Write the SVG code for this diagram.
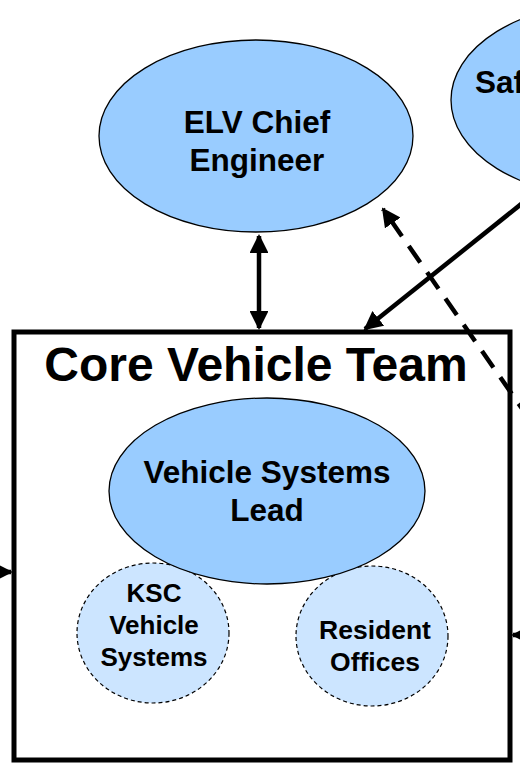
<svg xmlns="http://www.w3.org/2000/svg" width="520" height="771" viewBox="0 0 520 771">
<defs>
<style>
.big{fill:#99CCFF;stroke:#000;stroke-width:1.3}
.small{fill:#CCE5FF;stroke:#000;stroke-width:1.2;stroke-dasharray:4 3}
.t{font-family:"Liberation Sans",Arial,sans-serif;font-weight:bold;fill:#000;text-anchor:middle}
.ln{stroke:#000;stroke-width:4.5;fill:none}
</style>
<marker id="ah" viewBox="0 0 10 10" refX="9" refY="5" markerWidth="4.2" markerHeight="4.2" orient="auto-start-reverse" markerUnits="strokeWidth">
<path d="M0,0 L10,5 L0,10 Z" fill="#000"/>
</marker>
</defs>
<rect width="520" height="771" fill="#fff"/>
<g id="core-vehicle-team">
<rect x="14" y="332" width="496" height="428" fill="none" stroke="#000" stroke-width="5"/>
<text class="t" x="256" y="381" font-size="48">Core Vehicle Team</text>
</g>
<g id="elv-chief-engineer">
<ellipse class="big" cx="256" cy="136" rx="157" ry="96"/>
<text class="t" x="257" y="133" font-size="31.5">ELV Chief</text>
<text class="t" x="257" y="171" font-size="31.5">Engineer</text>
</g>
<g id="safety">
<ellipse class="big" cx="608" cy="100" rx="157" ry="97"/>
<text class="t" x="475" y="93" font-size="31.5" style="text-anchor:start">Safety</text>
</g>
<g id="ksc-vehicle-systems">
<ellipse class="small" cx="153" cy="633" rx="76" ry="70"/>
<text class="t" x="154" y="602" font-size="26">KSC</text>
<text class="t" x="154" y="634" font-size="26">Vehicle</text>
<text class="t" x="154" y="666" font-size="26">Systems</text>
</g>
<g id="resident-offices">
<ellipse class="small" cx="372" cy="636" rx="76" ry="70"/>
<text class="t" x="375" y="639" font-size="26.5">Resident</text>
<text class="t" x="375" y="671" font-size="26.5">Offices</text>
</g>
<g id="vehicle-systems-lead">
<ellipse class="big" cx="267" cy="491" rx="158" ry="93"/>
<text class="t" x="267" y="483" font-size="31.5">Vehicle Systems</text>
<text class="t" x="267" y="521" font-size="31.5">Lead</text>
</g>
<g id="connectors">
<line class="ln" x1="259" y1="236" x2="259" y2="328" marker-start="url(#ah)" marker-end="url(#ah)"/>
<line class="ln" x1="530" y1="197" x2="365" y2="329" marker-end="url(#ah)"/>
<line class="ln" x1="530" y1="420" x2="383" y2="209" stroke-dasharray="20 12" marker-end="url(#ah)"/>
<line class="ln" x1="-20" y1="572" x2="11" y2="572" marker-end="url(#ah)"/>
<line class="ln" x1="540" y1="635" x2="513" y2="635" marker-end="url(#ah)"/>
</g>
</svg>
